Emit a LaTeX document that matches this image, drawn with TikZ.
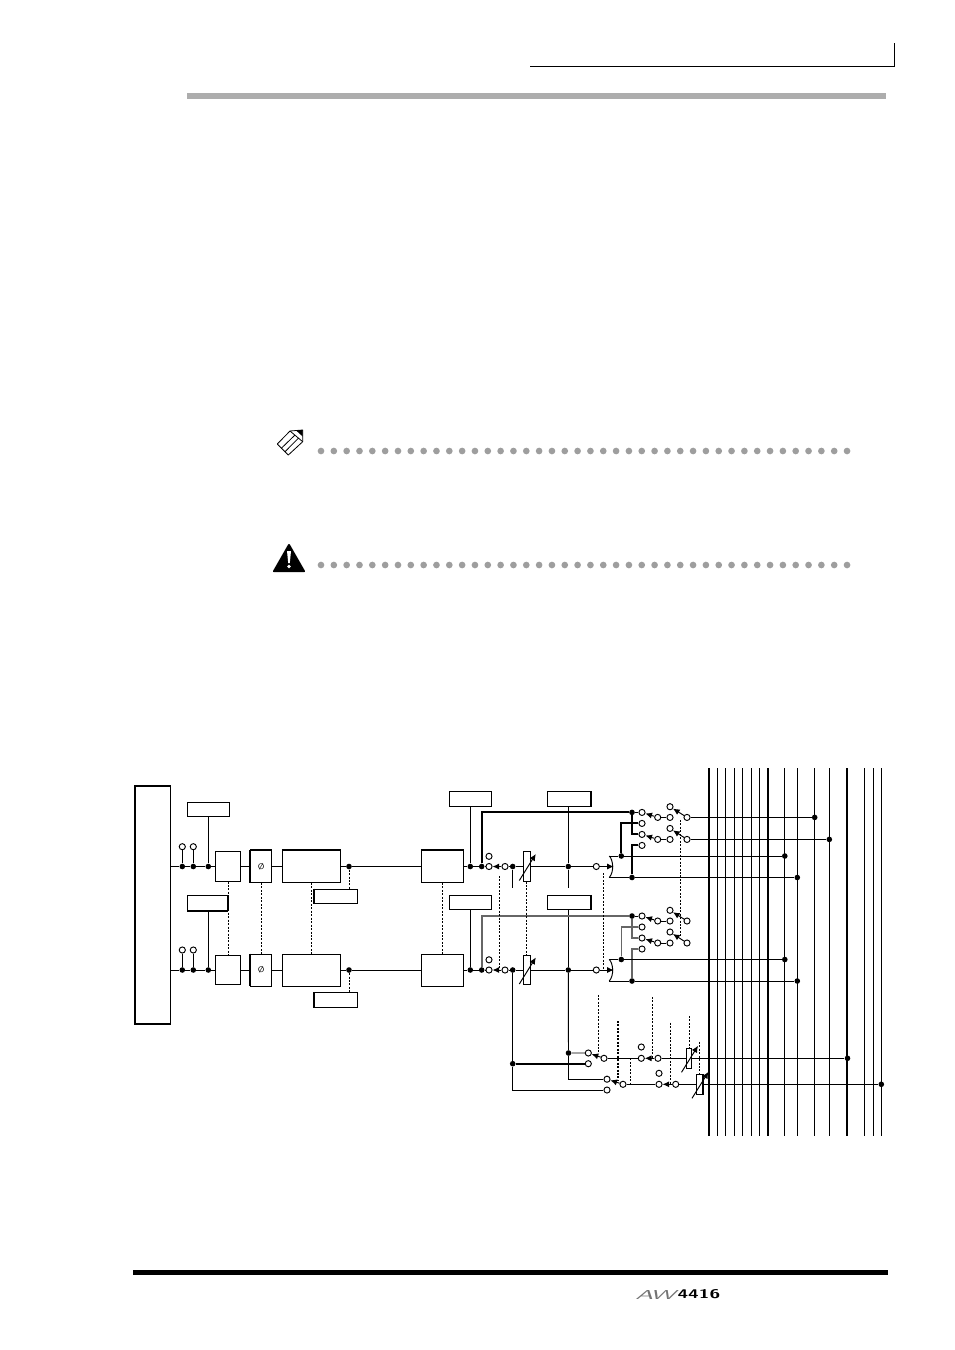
\documentclass[tikz,border=0pt]{standalone}
\usepackage{tikz}
\usetikzlibrary{arrows.meta}
\tikzset{
    blk/.style={draw,rectangle,inner sep=0pt,line width=0.72pt,fill=white},
    hablk/.style={blk,minimum width=19pt,minimum height=21.8pt},
    phiblk/.style={blk,minimum width=15.75pt,minimum height=24pt},
    eqblk/.style={blk,minimum width=43.8pt,minimum height=24pt},
    gateblk/.style={blk,minimum width=31.5pt,minimum height=24pt},
    tagblk/.style={blk,minimum width=32pt,minimum height=10.9pt},
    fadr/.style={blk,minimum width=5.25pt,minimum height=21.8pt},
    fadrs/.style={blk,minimum width=4pt,minimum height=15pt},
    jack/.style={circle,draw,fill=white,inner sep=0pt,minimum size=4.6pt,line width=0.7pt},
    junc/.style={circle,fill=black,inner sep=0pt,minimum size=4.2pt},
    wire/.style={line width=0.72pt},
    heavy/.style={line width=1.55pt},
    midgray/.style={line width=1.2pt,draw=black!60},
    gang/.style={line width=0.7pt,dash pattern=on 1.5pt off 1.1pt},
    arm/.style={line width=0.72pt,-{Latex[length=5pt,width=4.6pt]}},
    pagedot/.style={circle,fill=black!38,inner sep=0pt,minimum size=5pt}
}
% fader: box with a slanted arrow through it
\newcommand{\fader}[4]{
    \node[#4] (#1) at (#2,#3) {};
    \draw[arm] ([shift={(-7.5,14)}]#1.center) -- ([shift={(9,-12.5)}]#1.center);
}
\begin{document}
\begin{tikzpicture}[x=0.75pt,y=-0.75pt]
    \useasboundingbox[fill=white] (0,0) rectangle (954,1350);

    % page furniture
    \draw[line width=0.9pt] (530,66.3) -- (894.3,66.3) -- (894.3,43);
    \fill[black!32] (187,93) rectangle (885.7,99);
    \fill[black] (133,1269.7) rectangle (887.7,1275);
    \foreach \r in {451,565} {
        \foreach \k in {0,...,41} {
            \node[pagedot] (pd\r-\k) at ({321+\k*12.83},\r) {};
        }
    }
    % pencil
    \draw[line width=0.6pt,line join=round] (277.3,444) -- (290,431) -- (302.7,430) -- (302.7,441.7) -- (288.3,455) -- cycle;
    \draw[line width=0.6pt] (281.3,448.3) -- (295,435) (285,451.7) -- (298.3,438.3) (290,431) -- (302.7,441.7);
    \fill (296,430.4) -- (302.7,430) -- (302.7,436.5) -- cycle;
    % warning sign
    \fill[line join=round,line width=1.5pt,draw=black] (289,545) -- (304,571.2) -- (274,571.2) -- cycle;
    \fill[white] (287,551) -- (291,551) -- (289.8,563) -- (288.2,563) -- cycle;
    \fill[white] (289,566.5) circle (1.8);
    % logo
    \node[inner sep=0pt,anchor=west,black!55] (logoa) at (635,1294.5) {\resizebox{30pt}{6.75pt}{\sffamily\slshape AW}};
    \node[inner sep=0pt,anchor=east] (logob) at (720.5,1294.5) {\resizebox{32pt}{6.75pt}{\sffamily\bfseries 4416}};

    % bus lines
    \foreach \bx/\bw [count=\bn] in {709/1.6,717.3/0.72,725.7/0.72,734.7/0.72,742.3/0.72,751.3/0.72,759.3/0.72,767.7/1.6,784.3/0.8,797.3/0.8,814.7/0.72,829.3/0.72,847/1.6,864.7/0.72,873.3/0.72,881.3/0.72} {
        \coordinate (bt\bn) at (\bx,768);
        \coordinate (bb\bn) at (\bx,1136);
        \draw[line width=\bw pt] (bt\bn) -- (bb\bn);
    }

    % input
    \node[blk,minimum width=26.6pt,minimum height=178.5pt,line width=1pt] (inp) at (152.8,905) {};
    \node[tagblk] (pad1) at (208.6,809.3) {};
    \node[tagblk,minimum width=29.5pt] (pad2) at (207.5,903) {};
    \draw[heavy] (pad2.south west) -- (pad2.south east) (pad2.north east) -- (pad2.south east);

    % two channels
    \foreach \c/\y/\ys in {1/866.5/846.7,2/970/950} {
        \node[junc] (ja\c) at (182.3,\y) {};
        \node[junc] (jb\c) at (193.3,\y) {};
        \node[junc] (jc\c) at (208.3,\y) {};
        \node[jack] (oa\c) at (182.3,\ys) {};
        \node[jack] (ob\c) at (193.3,\ys) {};
        \node[hablk] (ha\c) at (228,\y) {};
        \node[phiblk] (phi\c) at (261.2,\y) {\fontsize{6}{6}\selectfont\sffamily\O};
        \node[eqblk] (eq\c) at (311.5,\y) {};
        \node[junc] (jd\c) at (349,\y) {};
        \node[gateblk] (gt\c) at (442.3,\y) {};
        \node[junc] (je\c) at (470.3,\y) {};
        \node[junc] (jf\c) at (481.7,\y) {};
        \node[jack] (sa\c) at (489,\y) {};
        \node[jack] (sb\c) at (489,\y-10.2) {};
        \node[jack] (sc\c) at (505,\y) {};
        \node[junc] (jg\c) at (512.7,\y) {};
        \fader{fd\c}{526.8}{\y}{fadr}
        \node[junc] (jh\c) at (568.3,\y) {};
        \node[jack] (sd\c) at (596.3,\y) {};
        \coordinate (am\c) at (613.7,\y);
        \coordinate (at\c) at (609.3,\y-10.5);
        \coordinate (ab\c) at (609.3,\y+11);
        \node[junc] (ji\c) at (621.3,\y-10.5) {};
        \node[junc] (jj\c) at (632,\y+11) {};
        \draw[wire] (inp.east |- ja\c) -- (ja\c) -- (jb\c) -- (jc\c) -- (ha\c);
        \draw[wire] (ja\c) -- (oa\c) (jb\c) -- (ob\c);
        \draw[wire] (ha\c) -- (phi\c);
        \draw[wire] (phi\c) -- (eq\c);
        \draw[wire] (eq\c) -- (jd\c) -- (gt\c);
        \draw[wire] (gt\c) -- (je\c) -- (jf\c) -- (sa\c);
        \draw[arm] (sc\c) -- (sa\c);
        \draw[wire] (sc\c) -- (jg\c) -- (fd\c) -- (jh\c) -- (sd\c);
        \draw[arm] (sd\c) -- (am\c);
        \draw[wire] (at\c) .. controls (613,\y-7) and (614.5,\y+5) .. (ab\c);
    }
    \draw[heavy] (eq1.north west) -- (eq1.north east);
    \draw[heavy] (gt1.north west) -- (gt1.north east);
    \foreach \c in {1,2} {
        \draw[heavy] (phi\c.north west) -- (phi\c.south west);
    }
    \draw[heavy] (phi1.north west) -- (phi1.north east);

    % tags under the eq
    \node[tagblk] (tg1) at (336,896.3) {};
    \node[tagblk] (tg2) at (336,999.8) {};
    \foreach \c in {1,2} {
        \draw[gang] (jd\c) -- (jd\c |- tg\c.north);
        \draw[heavy] (tg\c.north west) -- (tg\c.south west);
    }
    \draw[wire] (pad1.south -| jc1) -- (jc1);
    \draw[wire] (pad2.south -| jc2) -- (jc2);

    % tags over the gate and after the fader
    \node[tagblk] (gta) at (470.5,798.8) {};
    \node[tagblk] (gtb) at (470.5,902.5) {};
    \node[tagblk] (spa) at (568.8,798.8) {};
    \node[tagblk] (spb) at (568.8,902.5) {};
    \draw[heavy] (spa.north east) -- (spa.south east);
    \draw[heavy] (spb.north east) -- (spb.south east);
    \draw[wire] (gta.south -| je1) -- (je1);
    \draw[wire] (gtb.south -| je2) -- (je2);
    \draw[wire] (spa.south -| jh1) -- (jh1);
    \draw[wire] (spb.south -| jh2) -- (jh2);
    \coordinate (ea1) at (512.7,888.3);
    \coordinate (ea2) at (568.3,888);
    \draw[wire] (jg1) -- (ea1);
    \draw[wire] (jh1) -- (ea2);

    % selector banks
    \foreach \c/\t in {1/812.4,2/916} {
        \node[junc] (jk\c) at (632,\t) {};
        \node[jack] (ra\c) at (642,\t) {};
        \node[jack] (rb\c) at (642,\t+11) {};
        \node[jack] (rc\c) at (642,\t+22) {};
        \node[jack] (rd\c) at (642,\t+33) {};
        \node[jack] (ta\c) at (657.7,\t+5) {};
        \node[jack] (tb\c) at (670,\t+5) {};
        \node[jack] (tc\c) at (670,\t-5.7) {};
        \node[jack] (td\c) at (687,\t+5) {};
        \node[jack] (te\c) at (657.7,\t+27) {};
        \node[jack] (tf\c) at (670,\t+27) {};
        \node[jack] (tg\c x) at (670,\t+16) {};
        \node[jack] (th\c) at (687,\t+27) {};
        \draw[arm] (ta\c) -- (ra\c);
        \draw[arm] (te\c) -- (rc\c);
        \draw[wire] (ta\c) -- (tb\c);
        \draw[wire] (te\c) -- (tf\c);
        \draw[arm] (td\c) -- (tc\c);
        \draw[arm] (th\c) -- (tg\c x);
        \draw[wire] (jk\c) -- (ra\c);
        \draw[wire] (at\c) -- (ji\c);
        \draw[wire] (ab\c) -- (jj\c);
    }
    % thick feeds, upper channel
    \draw[heavy] (jf1) |- (jk1);
    \draw[heavy] (jk1) |- (rc1);
    \draw[heavy] (ji1) |- (rb1);
    \draw[heavy] (jj1) |- (rd1);
    % grey feeds, lower channel
    \draw[midgray] (jf2) |- (jk2);
    \draw[midgray] (jk2) |- (rc2);
    \draw[midgray] (ji2) |- (rb2);
    \draw[midgray] (jj2) |- (rd2);

    % bus junctions
    \node[junc] (ba) at (814.7,817.4) {};
    \node[junc] (bc) at (829.3,839.4) {};
    \node[junc] (bd) at (784.8,856) {};
    \node[junc] (be) at (797.3,877.5) {};
    \node[junc] (bf) at (784.8,959.5) {};
    \node[junc] (bg) at (797.3,981) {};
    \draw[wire] (td1) -- (ba);
    \draw[wire] (th1) -- (bc);
    \draw[wire] (ji1) -- (bd);
    \draw[wire] (jj1) -- (be);
    \draw[wire] (ji2) -- (bf);
    \draw[wire] (jj2) -- (bg);

    % stereo section at the bottom
    \node[junc] (jm) at (512.7,1063.7) {};
    \node[junc] (jn) at (568.5,1053) {};
    \coordinate (co) at (512.7,1090);
    \coordinate (cp) at (568.5,1079.2);
    \node[jack] (ma) at (588.3,1053) {};
    \node[jack] (mb) at (588.3,1063.7) {};
    \node[jack] (mc) at (604,1058.3) {};
    \node[jack] (md) at (607,1079.2) {};
    \node[jack] (me) at (607,1090) {};
    \node[jack] (mf) at (623,1084.3) {};
    \node[jack] (mg) at (641.3,1058.3) {};
    \node[jack] (mh) at (641.3,1047) {};
    \node[jack] (mi) at (658,1058.3) {};
    \node[jack] (mj) at (659,1084.3) {};
    \node[jack] (mk) at (659,1073.3) {};
    \node[jack] (ml) at (675.7,1084.3) {};
    \fader{fs1}{689}{1058.3}{fadrs}
    \fader{fs2}{699.5}{1084.3}{fadrs}
    \draw[heavy] (fs2.north east) -- (fs2.south east);
    \node[junc] (bh) at (847.5,1058.3) {};
    \node[junc] (bi) at (881.3,1084.3) {};
    \draw[wire] (jg2) -- (jm) -- (co) -- (me);
    \draw[heavy] (jm) -- (mb);
    \draw[wire] (jh2) -- (jn) -- (ma);
    \draw[wire] (jn) -- (cp) -- (md);
    \draw[arm] (mc) -- (ma);
    \draw[arm] (mf) -- (md);
    \draw[wire] (mc) -- (mg);
    \draw[wire] (mf) -- (mj);
    \draw[arm] (mi) -- (mg);
    \draw[arm] (ml) -- (mj);
    \draw[wire] (mi) -- (fs1) -- (bh);
    \draw[wire] (ml) -- (fs2) -- (bi);

    % ganged controls (dashed)
    \foreach \c in {ha,phi,eq,gt,fd} {
        \draw[gang] (\c1.south) -- (\c2.north);
    }
    \foreach \n/\x/\ya/\yb in {ga/499.3/876/970,gb/603.3/873/970,gc/680.3/820/936,gd/598.3/995/1052,ge/630.7/1058.3/1084.3,gf/652.3/997/1058,gg/670.3/1022.7/1084,gh/689.3/1016/1048,gi/699.3/1041.7/1074.5} {
        \coordinate (\n t) at (\x,\ya);
        \coordinate (\n b) at (\x,\yb);
        \draw[gang] (\n t) -- (\n b);
    }
    \coordinate (gjt) at (618,1021);
    \coordinate (gjb) at (618,1081);
    \draw[gang,line width=1.1pt] (gjt) -- (gjb);
\end{tikzpicture}
\end{document}
